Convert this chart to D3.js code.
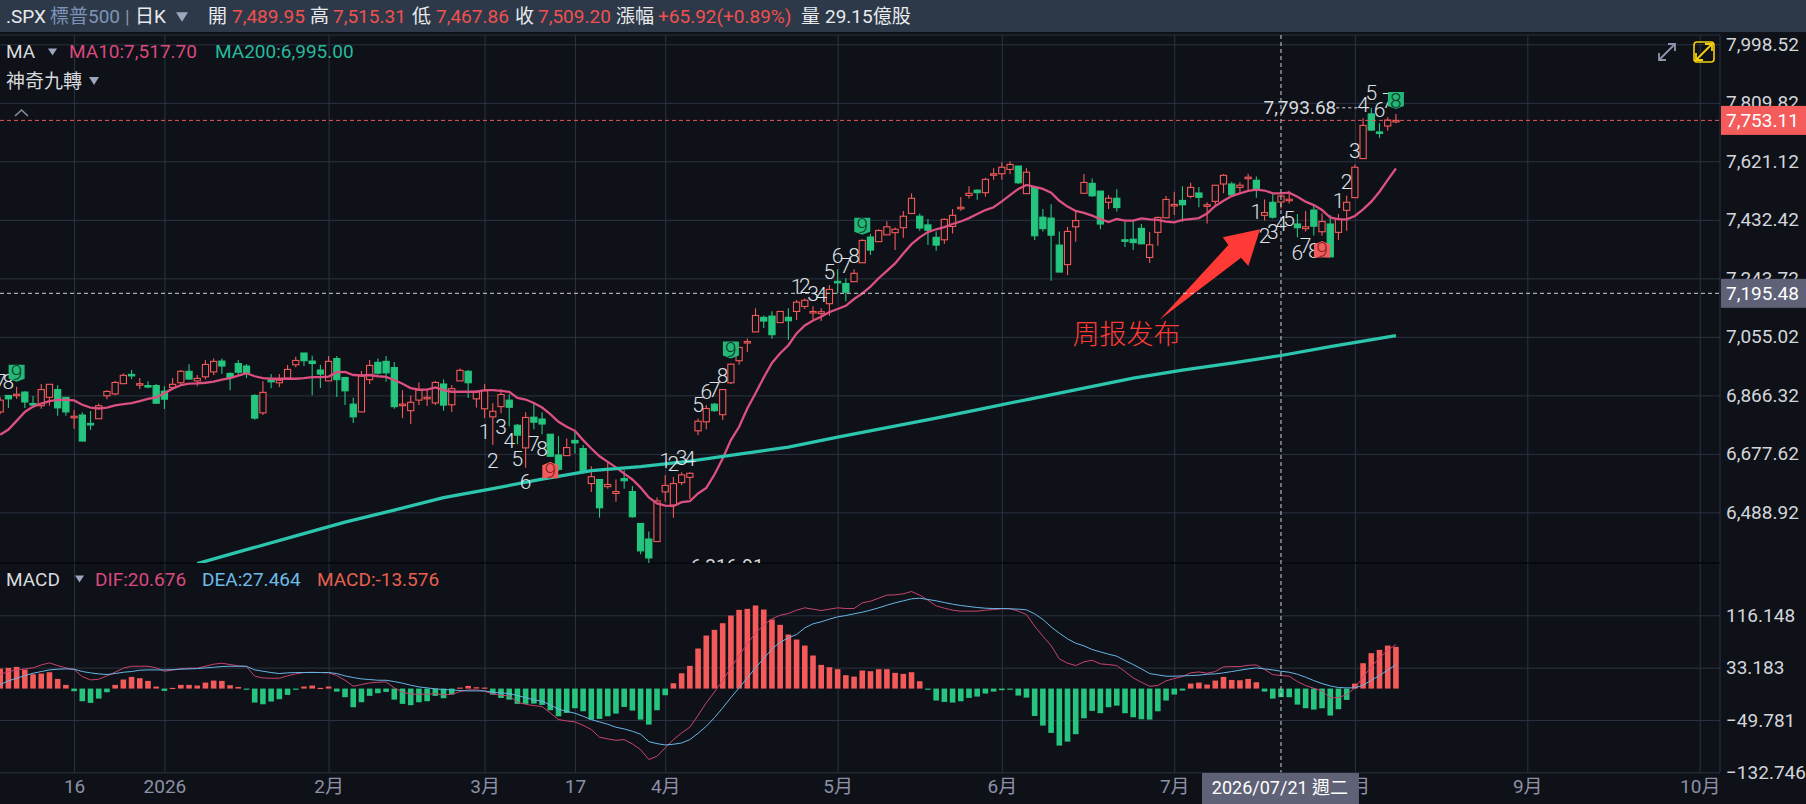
<!DOCTYPE html>
<html>
<head>
<meta charset="utf-8">
<script src="https://cdn.jsdelivr.net/npm/d3@7/dist/d3.min.js"></script>
<style>
  html, body { margin: 0; padding: 0; background: #0e1117; overflow: hidden; }
  svg { display: block; }
  text { font-family: Roboto, 'Noto Sans CJK TC', sans-serif; }
</style>
</head>
<body>
<div id="chart"></div>
<script>
const opens = [
  6813,6866,6866,6877,6840,6833,6860,6885,6860,6796,
  6803,6776,6791,6865,6871,6904,6934,6901,6898,6898,
  6880,6892,6907,6944,6913,6926,6942,6977,6937,6969,
  6961,6866,6810,6916,6907,6922,6965,7003,6977,6948,
  6913,6985,6924,6838,6813,6917,6973,6976,6956,6834,
  6817,6851,6858,6842,6903,6836,6913,6944,6855,6823,
  6797,6830,6851,6770,6697,6796,6790,6741,6674,6672,
  6721,6695,6582,6595,6572,6550,6598,6556,6453,6403,
  6395,6555,6513,6585,6602,6752,6781,6838,6804,6907,
  6978,7037,7071,7118,7122,7101,7118,7137,7153,7133,
  7130,7162,7234,7227,7233,7294,7377,7362,7384,7391,
  7407,7453,7444,7416,7376,7368,7411,7468,7511,7528,
  7520,7579,7581,7595,7606,7517,7537,7441,7438,7351,
  7288,7410,7518,7550,7525,7489,7502,7368,7370,7405,
  7311,7392,7439,7479,7495,7508,7519,7476,7492,7548,
  7548,7537,7568,7560,7447,7489,7489.95,7496,7419,7404,
  7464,7394,7419,7392,7463,7504,7630,7774,7716,7735,7750
]
const highs = [
  6860,6866,6894,6880,6864,6903,6902,6899,6860,6819,
  6812,6816,6840,6883,6913,6937,6948,6922,6912,6903,
  6896,6922,6948,6967,6932,6980,6985,6985,6941,6980,
  6967,6870,6912,6935,6935,6964,6991,7003,6994,6965,
  6993,6993,6924,6859,6945,6980,6985,6993,6974,6883,
  6866,6908,6883,6913,6918,6900,6953,6948,6883,6903,
  6842,6887,6870,6774,6812,6844,6812,6741,6735,6727,
  6754,6706,6638,6595,6652,6595,6625,6574,6453,6427,
  6537,6609,6603,6618,6618,6792,6835,6842,6885,6969,
  7023,7050,7147,7124,7138,7137,7147,7174,7179,7154,
  7147,7222,7273,7244,7273,7370,7387,7402,7428,7408,
  7461,7518,7453,7435,7395,7437,7467,7506,7541,7531,
  7568,7599,7618,7621,7606,7599,7537,7467,7483,7395,
  7410,7461,7580,7566,7525,7512,7531,7426,7430,7419,
  7393,7443,7509,7523,7541,7552,7538,7489,7544,7580,
  7555,7554,7581,7572,7498,7516,7515.31,7526,7451,7461,
  7479,7453,7448,7451,7511,7611,7760,7793.68,7744,7763,7774
]
const lows = [
  6806,6826,6855,6826,6827,6823,6833,6801,6801,6759,
  6719,6755,6791,6854,6867,6904,6919,6887,6889,6841,
  6822,6890,6899,6916,6896,6918,6932,6935,6883,6933,
  6922,6788,6803,6889,6893,6916,6957,6961,6867,6890,
  6913,6861,6835,6777,6813,6903,6934,6910,6823,6793,
  6774,6835,6832,6835,6817,6813,6913,6858,6827,6793,
  6706,6809,6767,6709,6633,6757,6741,6668,6623,6672,
  6679,6619,6555,6472,6565,6523,6565,6472,6354,6316.91,
  6395,6523,6472,6577,6532,6738,6757,6813,6787,6903,
  6965,7006,7071,7084,7049,7101,7046,7109,7145,7112,
  7106,7123,7195,7170,7233,7294,7319,7362,7384,7335,
  7375,7453,7397,7351,7333,7355,7388,7462,7501,7497,
  7507,7562,7562,7580,7548,7517,7367,7395,7236,7264,
  7254,7362,7518,7506,7402,7467,7459,7345,7335,7354,
  7294,7349,7439,7448,7426,7502,7473,7421,7481,7518,
  7508,7516,7525,7504,7430,7437,7467.86,7485,7376,7395,
  7382,7381,7313,7367,7397,7504,7630,7720,7697,7720,7744
]
const closes = [
  6851,6855,6870,6845,6838,6885,6902,6826,6813,6799,
  6719,6771,6833,6879,6908,6931,6930,6904,6894,6841,
  6854,6902,6944,6919,6921,6966,6976,6961,6924,6941,
  6938,6793,6876,6910,6915,6950,6979,6978,6969,6935,
  6976,6917,6881,6797,6928,6963,6938,6939,6830,6838,
  6844,6883,6860,6908,6835,6888,6947,6907,6878,6881,
  6815,6869,6828,6738,6795,6780,6774,6670,6628,6698,
  6713,6622,6604,6504,6579,6556,6591,6475,6365,6342,
  6526,6576,6582,6610,6615,6783,6824,6817,6885,6967,
  7021,7040,7124,7106,7062,7137,7107,7167,7173,7137,
  7136,7208,7230,7199,7260,7366,7335,7398,7410,7402,
  7444,7502,7406,7399,7351,7434,7447,7473,7518,7520,
  7563,7581,7602,7611,7552,7586,7381,7404,7383,7264,
  7395,7430,7553,7510,7419,7502,7472,7366,7359,7355,
  7352,7440,7498,7482,7481,7537,7505,7481,7544,7576,
  7513,7544,7570,7532,7456,7441,7509.20,7499,7407,7410,
  7412,7427,7313,7434,7489,7602,7737,7722,7711,7754,7753.11
]

const ma10 = [
  6739,6756,6784,6813,6830,6840,6848,6852,6852,6850,
  6836,6827,6824,6827,6834,6838,6841,6848,6855,6860,
  6873,6888,6899,6904,6905,6907,6911,6917,6922,6930,
  6938,6928,6922,6920,6920,6920,6920,6922,6925,6925,
  6927,6941,6942,6932,6931,6932,6928,6926,6916,6904,
  6890,6885,6885,6892,6883,6878,6878,6878,6878,6883,
  6883,6881,6878,6858,6853,6842,6827,6806,6781,6765,
  6752,6722,6695,6670,6652,6634,6614,6595,6569,6537,
  6518,6511,6509,6522,6525,6550,6568,6611,6663,6722,
  6765,6824,6873,6924,6971,7002,7028,7066,7092,7108,
  7120,7135,7145,7155,7177,7195,7217,7244,7268,7292,
  7324,7354,7376,7393,7402,7409,7419,7427,7438,7451,
  7464,7473,7492,7512,7532,7545,7539,7532,7520,7494,
  7475,7461,7455,7446,7435,7425,7435,7430,7430,7437,
  7434,7432,7427,7424,7432,7435,7438,7453,7477,7494,
  7509,7518,7526,7530,7527,7518,7517.70,7520,7507,7491,
  7480,7464,7440,7434,7434,7445,7466,7491,7523,7561,7598
]

const ma200Index = [24,30,36,42,48,54,60,66,72,78,84,90,96,102,108,114,120,126,132,138,144,150,156,162,166,170]
const ma200 = [
  6323.7,6368.8,6413.3,6457.5,6496.2,6536.6,6565.6,6596.2,6623.7,6636.6,6654.3,6676.9,6699.5,
  6731.7,6762.4,6793,6825.3,6857.5,6889.8,6922.1,6947.9,6970.5,6995,7023.7,7041.5,7059.1
]

const macdBars = [
  31.7,32.8,34.4,30.1,22.7,23.8,25.9,15.3,5.8,-4.2,
  -20.1,-22.7,-15.9,-5.8,5.8,14.3,18.5,16.4,12.2,3.2,
  -3.7,1.1,5.8,5.8,4.8,9.5,12.7,12.2,5.3,2.6,
  -1.6,-22.2,-24.9,-20.6,-16.9,-10,-1.6,3.2,4.8,1.1,
  3.2,-4.8,-13.7,-29.6,-21.7,-11.6,-7.4,-5.3,-17.5,-24.3,
  -26.4,-21.7,-20.1,-11.6,-15.3,-9.5,1.6,4.2,2.1,1.6,
  -9.5,-14.8,-17.5,-24.3,-24.3,-23.8,-25.9,-34.4,-43.9,-38.6,
  -31.2,-36,-49.2,-48.1,-43.9,-39.7,-29.1,-34.9,-49.2,-57.1,
  -34.4,-10.6,8.5,24.3,36,63.5,84.1,93.1,103.6,115.8,
  124.8,126.4,131.7,125.3,109.5,101,85.7,77.7,68.2,52.4,
  37.5,33.8,30.7,21.2,19,28.6,27.5,30.7,30.7,24.9,
  23.3,25.9,11.6,-1.6,-19,-21.2,-22.2,-20.1,-14.8,-12.7,
  -7.9,-4.8,-2.6,-1.1,-11.1,-14.3,-43.4,-58.7,-70.3,-90.4,
  -84.1,-72.4,-47.1,-35.4,-39.1,-29.6,-27,-39.1,-45.5,-48.6,
  -49.2,-36,-19,-9.5,-3.2,7.9,9.5,6.3,12.7,18.5,
  13.7,13.2,15.3,10,-4.8,-15.9,-13.576,-13.7,-25.4,-31.2,
  -33.3,-31.2,-42.8,-32.8,-18,7.9,40.2,56.1,61.3,68.2,66.1
]
const dif = [
  22.2,27,29.6,31.2,32.8,37.5,40.7,36.5,32.8,30.1,
  19,13.7,14.8,20.1,25.9,32.3,35.4,35.4,35.4,32.8,
  27.5,29.1,31.7,32.3,32.3,35.4,38.6,40.2,38.1,36,
  34.9,19.6,16.9,16.4,16.4,20.1,23.3,25.4,25.9,25.4,
  24.9,20.6,13.2,3.7,6.3,9,10,10.6,1.1,-5.8,
  -8.5,-9,-9,-7.9,-10,-9,-4.8,-2.1,-2.1,-4.2,
  -8.5,-10.6,-11.6,-21.7,-24.9,-27,-28.6,-38.6,-49.2,-51.3,
  -52.9,-58.2,-65,-77.2,-79.8,-82,-80.9,-87.8,-96.8,-112.6,
  -107.3,-94.1,-80.9,-70.3,-61.3,-42.3,-22.7,-5.3,12.7,32.8,
  52.4,70.9,88.3,100.5,110.5,116.3,119,124.3,128,125.9,
  123.7,125.9,128,126.9,126.9,135.9,138.5,143.3,148.1,148.6,
  150.2,153.9,148.1,140.1,131.1,127.4,124.3,122.7,122.7,122.7,
  124.3,125.3,126.4,126.9,122.7,117.4,98.9,83,68.2,47.1,
  40.2,36.5,42.3,44.9,39.1,38.1,36.5,27,16.9,10,
  3.7,4.8,12.2,15.9,19,24.9,26.4,24.3,27,34.4,
  34.9,34.9,37,37.5,30.1,22.2,20.676,19.6,11.1,4.8,
  0.5,-3.7,-14.8,-14.3,-9.5,1.1,18.5,34.4,48.6,60.8,69.8
]
const dea = [
  6.3,12.2,16.4,20.6,24.3,27,29.6,30.7,31.2,30.7,
  27,24.9,23.3,22.2,23.8,25.9,27,29.1,29.6,29.6,
  29.6,30.1,30.7,31.2,31.7,32.8,33.8,34.9,35.4,35.4,
  35.4,29.6,27.5,25.4,23.8,24.9,25.4,25.4,25.4,25.4,
  25.4,23.8,20.1,17.5,15.3,14.3,13.2,13.2,11.1,8.5,
  5.3,2.6,1.1,-0.5,-1.6,-2.1,-3.2,-3.7,-3.7,-3.7,
  -5.8,-6.9,-7.9,-11.1,-14.3,-18,-20.1,-25.9,-32.8,-36,
  -39.1,-43.9,-49.2,-52.9,-56.6,-61.3,-64,-67.7,-72.4,-84.1,
  -87.3,-89.4,-88.3,-86.2,-80.9,-70.9,-59.8,-46,-30.7,-14.3,
  1.1,16.9,32.8,47.6,62.9,73.5,80.4,85.7,96.2,102.6,
  105.8,110,113.7,115.8,118.5,121.1,124.3,128,132.2,135.9,
  139.1,142.2,143.3,141.2,139.1,136.4,133.8,131.7,130.1,128.5,
  127.4,126.9,126.9,126.4,125.9,124.8,118.5,109.5,97.8,87.8,
  78.8,71.9,67.7,61.9,58.2,54.5,51.3,44.4,38.1,31.2,
  23.8,21.7,19.6,19.6,20.1,20.6,21.2,22.7,23.3,24.9,
  27,29.1,31.2,32.8,31.2,29.6,27.464,25.9,22.7,18,
  12.7,7.9,4.2,1.6,1.1,1.1,5.3,13.2,20.6,29.6,37.5
]

// 神奇九轉 counts: candle, digit, price level of the digit
const nineIndex = [0,1,59,60,61,62,63,64,65,66,81,82,83,84,85,86,87,88,97,98,99,100,101,102,103,104,153,154,155,156,157,158,159,160,163,164,165,166,167,168,169]
const nineDigit = [7,8,1,2,3,4,5,6,7,8,1,2,3,4,5,6,7,8,1,2,3,4,5,6,7,8,1,2,3,4,5,6,7,8,1,2,3,4,5,6,7]
const nineLevel = [
  6910,6910,6748.9,6657.5,6765,6722,6662.9,6587.6,6711.2,6695.1,6655.4,6646.7,6665,6662.9,6837,6880,6885.5,6929.5,
  7216.7,7222,7195.2,7192,7265,7316.7,7286.6,7316.7,7458.6,7383.3,7394.1,7421,7437.1,7327.4,7351.1,7332.8,
  7494.1,7557.6,7655.4,7806,7842.5,7788.8,7816.7
]
// tagged counts, the last digit of a run
const tagIndex = [2,67,89,105,161,170]
const tagDigit = [9,9,9,9,9,8]
const tagLevel = [6939.2,6625.2,7014.5,7413.5,7337.1,7818.9]
const tagKind = ['up','down','up','up','down','up']

const priceTicks = [7998.52,7809.82,7621.12,7432.42,7243.72,7055.02,6866.32,6677.62,6488.92]
const macdTicks = [116.148,33.183,-49.781,-132.746]
const timeTickIndex = [9,20,40,59,70,81,102,122,143,165,186,207]
const timeTickLabels = ['16','2026','2月','3月','17','4月','5月','6月','7月','8月','9月','10月']

const width = 1806
const height = 804
const axisX = 1720
const paneTop = 35
const paneBottom = 563
const macdBottom = 772.3

const red = '#f55a5a'
const green = '#25c57f'
const gridColor = '#2b3341'

const x = d3.scaleLinear().domain([0, 207]).range([0.2, 1699.7])
const y = d3.scaleLinear().domain([6488.92, 7998.52]).range([512.4, 44.3])
const yMacd = d3.scaleLinear().domain([-132.746, 116.148]).range([macdBottom, 615.3])

const bars = d3.range(opens.length)
const crossIndex = 156
const lastPrice = closes[closes.length - 1]
const crossPrice = 7195.48

const svg = d3
  .select('#chart')
  .append('svg')
  .attr('width', width)
  .attr('height', height)

svg.append('rect').attr('width', width).attr('height', height).attr('fill', '#0e1117')

svg.append('clipPath').attr('id', 'price-clip')
  .append('rect').attr('x', 0).attr('y', paneTop).attr('width', axisX).attr('height', paneBottom - paneTop)

// grid comes from the axes
const yAxis = svg.append('g')
  .attr('transform', `translate(${axisX},0)`)
  .call(d3.axisRight(y).tickValues(priceTicks).tickFormat(d3.format(',.2f')).tickSize(-axisX).tickPadding(6))
const yMacdAxis = svg.append('g')
  .attr('transform', `translate(${axisX},0)`)
  .call(d3.axisRight(yMacd).tickValues(macdTicks).tickFormat(d3.format('.3f')).tickSize(-axisX).tickPadding(6))
const xAxis = svg.append('g')
  .attr('transform', `translate(0,${macdBottom})`)
  .call(d3.axisBottom(x).tickValues(timeTickIndex).tickFormat((d, i) => timeTickLabels[i]).tickSize(-(macdBottom - paneTop)).tickPadding(7))

;[yAxis, yMacdAxis, xAxis].forEach(a => {
  a.select('.domain').remove()
  a.selectAll('line').attr('stroke', gridColor)
})
yAxis.selectAll('text').attr('fill', '#d3d6dc').attr('font-size', 19)
yMacdAxis.selectAll('text').attr('fill', '#d3d6dc').attr('font-size', 19)
xAxis.selectAll('text').attr('fill', '#8d90a6').attr('font-size', 19)

// frame lines
svg.append('line').attr('x1', 0).attr('x2', axisX).attr('y1', paneTop).attr('y2', paneTop).attr('stroke', gridColor)
svg.append('line').attr('x1', axisX).attr('x2', axisX).attr('y1', paneTop).attr('y2', macdBottom).attr('stroke', gridColor)
svg.append('line').attr('x1', 0).attr('x2', axisX).attr('y1', paneBottom).attr('y2', paneBottom).attr('stroke', '#05070a').attr('stroke-width', 1.5)

const pricePane = svg.append('g').attr('clip-path', 'url(#price-clip)')

// candles
const candle = pricePane.selectAll('.candle')
  .data(bars)
  .enter()
  .append('g')
  .attr('class', 'candle')
candle.append('line')
  .attr('x1', d => x(d)).attr('x2', d => x(d))
  .attr('y1', d => y(highs[d])).attr('y2', d => y(lows[d]))
  .attr('stroke', d => closes[d] >= opens[d] ? red : green)
  .attr('stroke-width', 1.1)
candle.append('rect')
  .attr('x', d => x(d) - 3.1)
  .attr('width', 6.2)
  .attr('y', d => y(Math.max(opens[d], closes[d])))
  .attr('height', d => Math.max(1.5, Math.abs(y(opens[d]) - y(closes[d]))))
  .attr('fill', d => closes[d] >= opens[d] ? '#0e1117' : green)
  .attr('stroke', d => closes[d] >= opens[d] ? red : green)
  .attr('stroke-width', 1.1)

// moving averages
const line = (values, scale) => d3.line().x((d, i) => x(d)).y((d, i) => scale(values[i]))
pricePane.append('path')
  .attr('d', line(ma10, y)(bars))
  .attr('fill', 'none').attr('stroke', '#dc5081').attr('stroke-width', 2.3)
pricePane.append('path')
  .attr('d', line(ma200, y)(ma200Index))
  .attr('fill', 'none').attr('stroke', '#2cc5ad').attr('stroke-width', 3.2)

// extremes
pricePane.append('text').text('7,793.68')
  .attr('x', x(167) - 35).attr('y', y(7793.68)).attr('dy', '0.35em')
  .attr('text-anchor', 'end').attr('fill', '#d8dadf').attr('font-size', 19)
pricePane.append('line')
  .attr('x1', x(167) - 35).attr('x2', x(167))
  .attr('y1', y(7793.68)).attr('y2', y(7793.68))
  .attr('stroke', '#d8dadf').attr('stroke-dasharray', '3,3')
pricePane.append('text').text('6,316.91')
  .attr('x', x(79) + 42).attr('y', y(6316.91)).attr('dy', '0.35em')
  .attr('fill', '#d8dadf').attr('font-size', 19)

// nine-turn counts
pricePane.selectAll('.nine')
  .data(nineIndex)
  .enter()
  .append('text')
  .attr('class', 'nine')
  .text((d, i) => nineDigit[i])
  .attr('x', d => x(d))
  .attr('y', (d, i) => y(nineLevel[i]))
  .attr('dy', '0.36em')
  .attr('text-anchor', 'middle')
  .attr('fill', '#dfe1e6')
  .attr('font-size', 21)
  .attr('font-weight', 300)

const tags = pricePane.selectAll('.tag')
  .data(tagIndex)
  .enter()
  .append('g')
  .attr('class', 'tag')
  .attr('transform', (d, i) => `translate(${x(d)},${y(tagLevel[i])})`)
tags.append('path')
  .attr('d', (d, i) => tagKind[i] === 'up' ? 'M-8,-8 H8 V6 L0,9 L-8,6Z' : 'M-8,-5 L0,-8.5 L8,-5 V8 H-8Z')
  .attr('fill', (d, i) => tagKind[i] === 'up' ? '#23b878' : '#f25c5c')
tags.append('text')
  .text((d, i) => tagDigit[i])
  .attr('dy', '0.36em')
  .attr('text-anchor', 'middle')
  .attr('font-size', 21)
  .attr('font-weight', 300)
  .attr('fill', (d, i) => tagKind[i] === 'up' ? '#0f3a2b' : '#8a2226')

// annotation
const arrow = [[0, 0], [-37.3, 8], [-31.7, 15.7], [-100.7, 90.7], [-19, 28.3], [-11.7, 36.7]]
svg.append('path')
  .attr('transform', `translate(${x(153.45)},${y(7401.7)})`)
  .attr('d', d3.line()(arrow) + 'Z')
  .attr('fill', '#ff3a36')
svg.append('text').text('周报发布')
  .attr('x', x(137.2)).attr('y', y(7064)).attr('dy', '0.36em')
  .attr('text-anchor', 'middle')
  .attr('font-size', 27).attr('font-weight', 300)
  .style('font-family', "'Noto Sans CJK SC', sans-serif")
  .attr('fill', '#ff3a36')

// MACD pane
svg.selectAll('.hist')
  .data(bars)
  .enter()
  .append('rect')
  .attr('class', 'hist')
  .attr('x', d => x(d) - 2.8)
  .attr('width', 5.6)
  .attr('y', d => Math.min(yMacd(macdBars[d]), yMacd(0)))
  .attr('height', d => Math.max(1.2, Math.abs(yMacd(macdBars[d]) - yMacd(0))))
  .attr('fill', d => macdBars[d] >= 0 ? red : green)
svg.append('path').attr('d', line(dif, yMacd)(bars))
  .attr('fill', 'none').attr('stroke', '#c8436f').attr('stroke-width', 1)
svg.append('path').attr('d', line(dea, yMacd)(bars))
  .attr('fill', 'none').attr('stroke', '#68b6e6').attr('stroke-width', 1)

// last price line, crosshair
svg.append('line')
  .attr('x1', 0).attr('x2', axisX).attr('y1', y(lastPrice)).attr('y2', y(lastPrice))
  .attr('stroke', '#e85a5c').attr('stroke-dasharray', '4,3')
svg.append('line')
  .attr('x1', 0).attr('x2', axisX).attr('y1', y(crossPrice)).attr('y2', y(crossPrice))
  .attr('stroke', '#cfd2d8').attr('stroke-dasharray', '4,3')
svg.append('line')
  .attr('x1', x(crossIndex)).attr('x2', x(crossIndex)).attr('y1', paneTop).attr('y2', macdBottom)
  .attr('stroke', '#cfd2d8').attr('stroke-dasharray', '4,3')

// price flags on the axis
function flag(value, fill) {
  svg.append('rect')
    .attr('x', axisX + 1).attr('y', y(value) - 14.5).attr('width', width - axisX - 1).attr('height', 29)
    .attr('fill', fill)
  svg.append('text').text(d3.format(',.2f')(value))
    .attr('x', axisX + 6).attr('y', y(value)).attr('dy', '0.36em')
    .attr('fill', '#fff').attr('font-size', 19)
}
flag(lastPrice, '#f45b5b')
flag(crossPrice, '#5f6176')

svg.append('rect')
  .attr('x', x(crossIndex) - 79).attr('y', 773).attr('width', 157).attr('height', 31).attr('fill', '#5f6176')
svg.append('text').text('2026/07/21 週二')
  .attr('x', x(crossIndex) - 1).attr('y', 788).attr('dy', '0.36em')
  .attr('text-anchor', 'middle').attr('fill', '#fff').attr('font-size', 18)

// header bar
svg.append('rect').attr('width', width).attr('height', 32).attr('fill', '#2d3948')
const headerText = (str, px, color, py = 16) => svg.append('text').text(str)
  .attr('x', px).attr('y', py).attr('dy', '0.36em').attr('fill', color).attr('font-size', 19)
const triangle = (px, py, size, color) => svg.append('path')
  .attr('d', `M${px},${py - size * 0.4}h${size}l${-size / 2},${size * 0.8}Z`).attr('fill', color)
const white = '#e8eaee'
const valueRed = '#f0504f'
headerText('.SPX', 6, white)
headerText('標普500', 50, '#7f93b8')
headerText('|', 125, '#8a93a3')
headerText('日K', 135, white)
triangle(176, 17, 12, '#9da6bd')
headerText('開', 208, white)
headerText('7,489.95', 232, valueRed)
headerText('高', 310, white)
headerText('7,515.31', 333, valueRed)
headerText('低', 412, white)
headerText('7,467.86', 436, valueRed)
headerText('收', 515, white)
headerText('7,509.20', 538, valueRed)
headerText('漲幅', 616, white)
headerText('+65.92(+0.89%)', 658, valueRed)
headerText('量', 801, white)
headerText('29.15億股', 825, white)

// legends
headerText('MA', 6, '#d8dade', 51)
triangle(48, 52, 9, '#9da6bd')
headerText('MA10:7,517.70', 69, '#d9497d', 51)
headerText('MA200:6,995.00', 215, '#27b99b', 51)
headerText('神奇九轉', 6, '#d8dade', 81)
triangle(89, 81, 10, '#9da6bd')
svg.append('path').attr('d', 'M15,116 L21.5,110 L28,116').attr('fill', 'none').attr('stroke', '#8a8da0').attr('stroke-width', 1.6)
headerText('MACD', 6, '#d8dade', 579)
triangle(75, 579, 9, '#9da6bd')
headerText('DIF:20.676', 95, '#d9497d', 579)
headerText('DEA:27.464', 202, '#6cbbe8', 579)
headerText('MACD:-13.576', 317, '#e8604f', 579)

// expand icons
function expandIcon(cx, cy, color) {
  svg.append('path')
    .attr('transform', `translate(${cx},${cy})`)
    .attr('d', 'M-8,8 L8,-8 M1,-8 H8 V-1 M-8,1 V8 H-1')
    .attr('fill', 'none').attr('stroke', color).attr('stroke-width', 1.8)
}
expandIcon(1667, 52, '#8f93ad')
svg.append('rect').attr('x', 1694).attr('y', 42).attr('width', 20).attr('height', 20).attr('rx', 3)
  .attr('fill', 'none').attr('stroke', '#f5d10d').attr('stroke-width', 1.6)
expandIcon(1704, 52, '#f5d10d')
</script>
</body>
</html>
